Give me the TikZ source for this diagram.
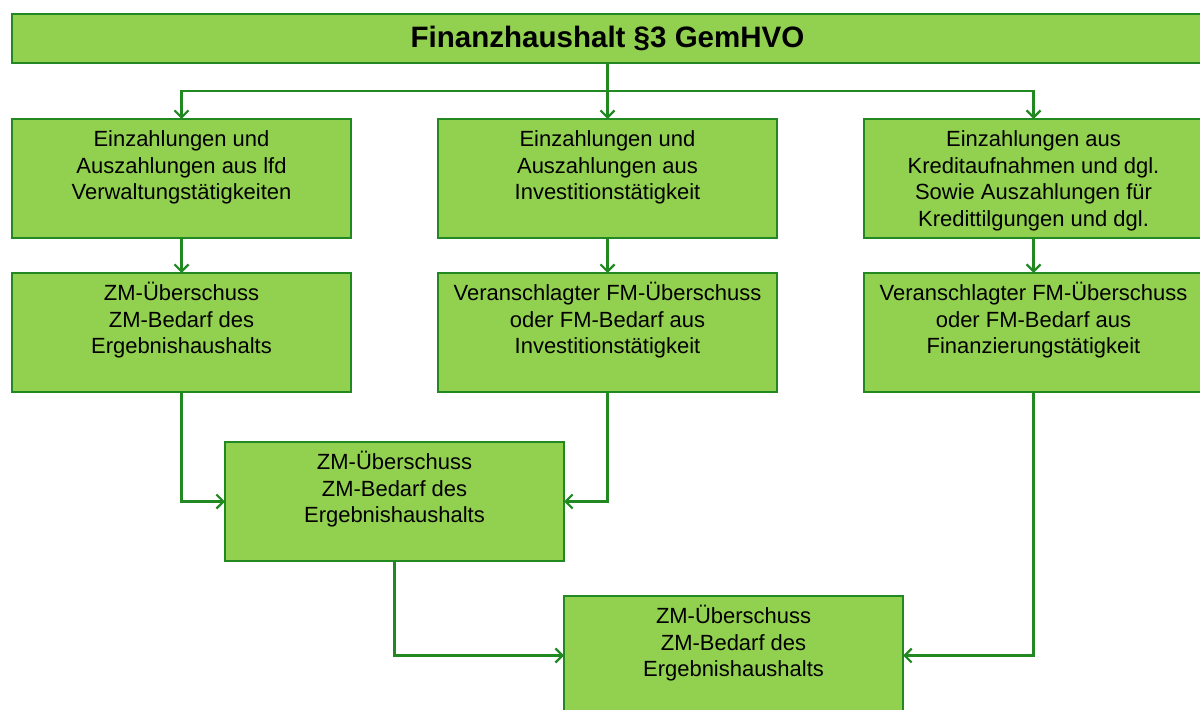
\documentclass[tikz,border=0pt]{standalone}
\usepackage{fontspec}
\setmainfont{Liberation Sans}
\usetikzlibrary{arrows.meta,positioning,calc}

\definecolor{boxgreen}{RGB}{146,208,80}
\definecolor{linegreen}{RGB}{34,136,34}
\newcommand{\boxtext}[1]{\parbox[c][2.38cm][t]{6.7cm}{\centering\vspace*{5.2pt}\strut #1\par}}

\begin{document}
\begin{tikzpicture}[->,>={Straight Barb[length=4pt,width=8pt]},line width=1.3pt,draw=linegreen,
	  box/.style={rectangle,draw=linegreen,fill=boxgreen,inner sep=0pt,outer sep=0pt,minimum width=6.78cm,
	    minimum height=2.38cm,font=\fontsize{12.5}{15.1}\selectfont},
	  head/.style={box,minimum width=23.82cm,minimum height=0.98cm,font=\fontsize{16.8}{20}\selectfont\bfseries}]

	\useasboundingbox (-3.63,-10.61) rectangle (20.37,3.57);

		\node[box] (lfd) at (0,0) {\boxtext{Einzahlungen und\\Auszahlungen aus lfd\\Verwaltungstätigkeiten}};
		\node[box] (inv) [right=1.74cm of lfd] {\boxtext{Einzahlungen und\\Auszahlungen aus\\Investitionstätigkeit}};
		\node[box] (fin) [right=1.74cm of inv] {\boxtext{Einzahlungen aus\\Kreditaufnahmen und dgl.\\Sowie Auszahlungen für\\Kredittilgungen und dgl.}};
		\node[head] (title) [above=1.12cm of inv] {Finanzhaushalt §3 GemHVO};

		\node[box] (lfd2) [below=0.7cm of lfd] {\boxtext{ZM-Überschuss\\ZM-Bedarf des\\Ergebnishaushalts}};
		\node[box] (inv2) [below=0.7cm of inv] {\boxtext{Veranschlagter FM-Überschuss\\oder FM-Bedarf aus\\Investitionstätigkeit}};
		\node[box] (fin2) [below=0.7cm of fin] {\boxtext{Veranschlagter FM-Überschuss\\oder FM-Bedarf aus\\Finanzierungstätigkeit}};

		\node[box] (sum1) [below=1cm of {$(lfd2.south)!0.5!(inv2.south)$}] {\boxtext{ZM-Überschuss\\ZM-Bedarf des\\Ergebnishaushalts}};
		\node[box] (sum2) [below right=0.7cm and 0cm of sum1] {\boxtext{ZM-Überschuss\\ZM-Bedarf des\\Ergebnishaushalts}};

		\coordinate (split) at ($(title.south)!0.5!(inv.north)$);

	\path[linegreen]
		(title.south) edge (inv.north)
		(lfd) edge (lfd2)
		(inv) edge (inv2)
		(fin) edge (fin2);
	\draw[linegreen] (split) -| (lfd.north);
	\draw[linegreen] (split) -| (fin.north);
	\draw[linegreen] (lfd2.south) |- (sum1.west);
	\draw[linegreen] (inv2.south) |- (sum1.east);
	\draw[linegreen] (sum1.south) |- (sum2.west);
	\draw[linegreen] (fin2.south) |- (sum2.east);

	\end{tikzpicture}
\end{document}
